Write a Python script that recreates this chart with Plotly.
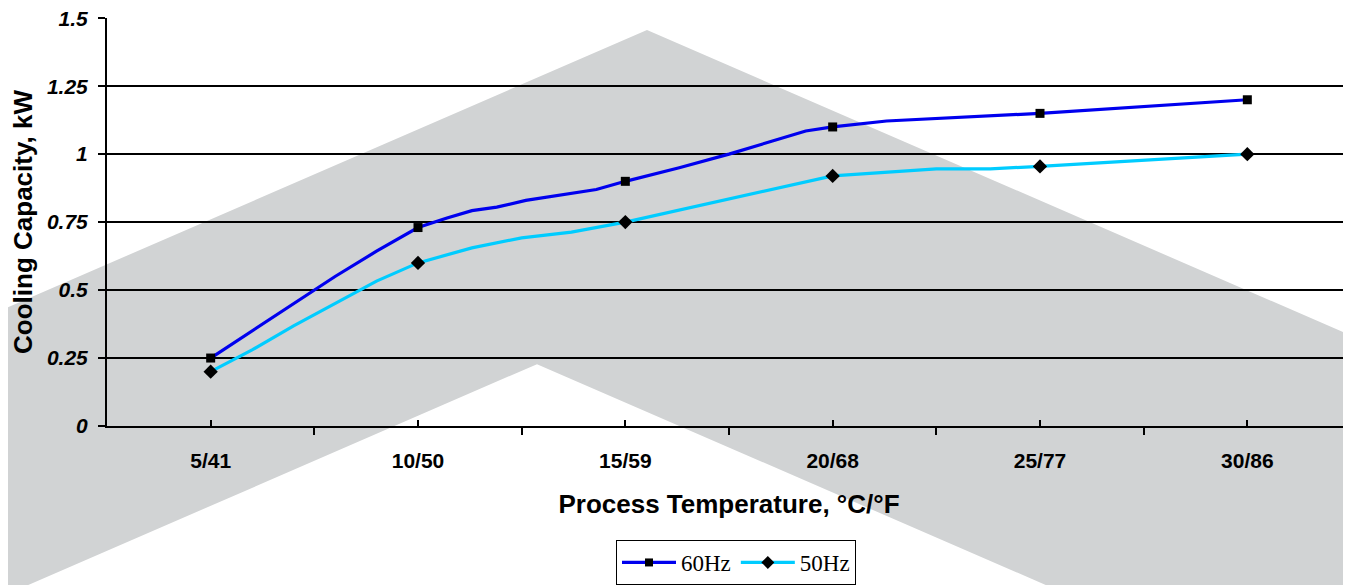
import plotly.graph_objects as go

# Category labels (process temperature °C/°F)
categories = ["5/41", "10/50", "15/59", "20/68", "25/77", "30/86"]
cat_temps_c = [5, 10, 15, 20, 25, 30]

# Marked data points
cap_60hz = [0.25, 0.73, 0.90, 1.10, 1.15, 1.20]
cap_50hz = [0.20, 0.60, 0.75, 0.92, 0.955, 1.00]

# Curve points (line passes through intermediate readings)
curve60_t = [5, 6, 7, 8, 9, 10, 10.7, 11.3, 11.9, 12.6, 14.3, 15, 16.3, 17.5, 19.35, 20, 21.3, 25, 30]
curve60_v = [0.25, 0.35, 0.45, 0.55, 0.643, 0.73, 0.765, 0.792, 0.805, 0.83, 0.87, 0.90,
             0.95, 1.0, 1.085, 1.10, 1.122, 1.15, 1.20]
curve50_t = [5, 6, 7, 8, 9, 10, 10.7, 11.3, 12.5, 13.7, 15, 18.8, 20, 22.5, 23.8, 25, 30]
curve50_v = [0.20, 0.28, 0.368, 0.451, 0.533, 0.60, 0.63, 0.655, 0.692, 0.713, 0.75,
             0.881, 0.92, 0.946, 0.946, 0.955, 1.00]

y_ticks = [0, 0.25, 0.5, 0.75, 1, 1.25, 1.5]
y_ticktext = ["0", "0.25", "0.5", "0.75", "1", "1.25", "1.5"]

C60 = "#0000EE"
C50 = "#00CCFF"

# page has an 8px body margin; plot area target in page pixels
OFF = 8
PL, PT, PR, PB = 107, 18, 1351, 427
PW, PH = PR - PL, PB - PT
W = PR - OFF
H = 585 - OFF


def px2paper(x, y):
    return (x - PL) / PW, (PB - y) / PH


# background chevron watermark (page-pixel polygon -> paper coords)
chev_px = [(-10, 315.8), (647, 30), (1361, 340.6), (1361, 600), (1077, 600),
           (537, 365), (-3, 600), (-10, 600)]
pts = [px2paper(x, y) for x, y in chev_px]
path = "M " + " L ".join(f"{a:.5f},{b:.5f}" for a, b in pts) + " Z"

fig = go.Figure()

fig.add_trace(go.Scatter(x=curve60_t, y=curve60_v, mode="lines",
                         line=dict(color=C60, width=3.2), showlegend=False, hoverinfo="skip"))
fig.add_trace(go.Scatter(x=curve50_t, y=curve50_v, mode="lines",
                         line=dict(color=C50, width=3.2), showlegend=False, hoverinfo="skip"))
fig.add_trace(go.Scatter(x=cat_temps_c, y=cap_60hz, mode="markers",
                         marker=dict(symbol="square", size=9, color="black"), showlegend=False))
fig.add_trace(go.Scatter(x=cat_temps_c, y=cap_50hz, mode="markers",
                         marker=dict(symbol="diamond", size=11, color="black"), showlegend=False))
# legend entries
fig.add_trace(go.Scatter(x=[None], y=[None], mode="lines+markers", name="60Hz",
                         line=dict(color=C60, width=3.2),
                         marker=dict(symbol="square", size=8, color="black")))
fig.add_trace(go.Scatter(x=[None], y=[None], mode="lines+markers", name="50Hz",
                         line=dict(color=C50, width=3.2),
                         marker=dict(symbol="diamond", size=10, color="black")))

fig.add_shape(type="path", path=path, xref="paper", yref="paper",
              fillcolor="#D1D3D4", line=dict(width=0), layer="below")

lx, ly = px2paper(736, 541)

fig.update_layout(
    width=W, height=H,
    margin=dict(l=PL - OFF, r=0, t=PT - OFF, b=H - (PB - OFF), pad=0),
    paper_bgcolor="white",
    plot_bgcolor="rgba(0,0,0,0)",
    font=dict(family="Liberation Sans, Arial, sans-serif", color="black"),
    legend=dict(orientation="h", x=lx, xanchor="center", y=ly, yanchor="top",
                bordercolor="black", borderwidth=1, bgcolor="white", itemwidth=54,
                font=dict(family="Liberation Serif, Times New Roman, serif", size=23, color="black")),
    xaxis=dict(
        range=[2.5, 32.5], tickmode="array", tickvals=cat_temps_c, ticktext=categories,
        ticks="inside", ticklen=6, tickwidth=2, tickcolor="black",
        showline=True, linecolor="black", linewidth=2, showgrid=False, zeroline=False,
        tickfont=dict(size=21, weight="bold"), ticklabelstandoff=15,
        minor=dict(tickmode="array", tickvals=[2.5, 7.5, 12.5, 17.5, 22.5, 27.5, 32.5],
                   ticks="outside", ticklen=7, tickwidth=2, tickcolor="black", showgrid=False),
        title=dict(text="Process Temperature, °C/°F", font=dict(size=26, weight="bold"), standoff=24),
    ),
    yaxis=dict(
        range=[0, 1.5008], tickmode="array", tickvals=y_ticks, ticktext=y_ticktext,
        ticks="outside", ticklen=7, tickwidth=2, tickcolor="black",
        showline=True, linecolor="black", linewidth=2, ticklabeloverflow="allow",
        showgrid=True, gridcolor="black", gridwidth=1.5, zeroline=False,
        tickfont=dict(size=21, weight="bold", style="italic"), ticklabelstandoff=6,
        title=dict(text="Cooling Capacity, kW", font=dict(size=26, weight="bold"), standoff=10),
    ),
)

fig.write_html("out.html")
